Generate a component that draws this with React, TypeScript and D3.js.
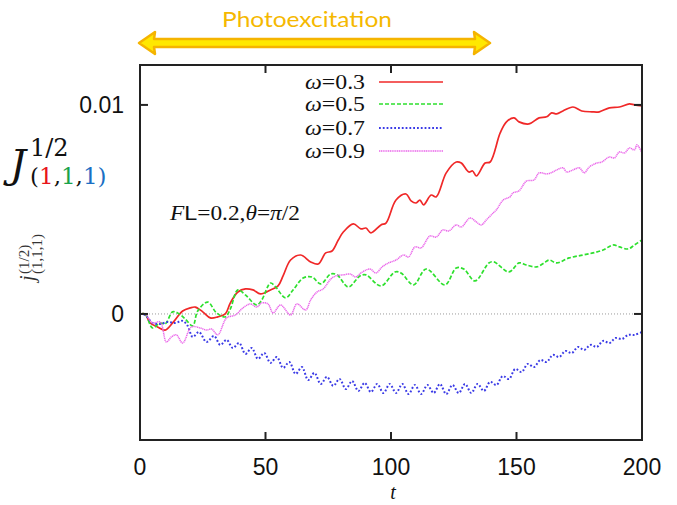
import React from "react";
import * as d3 from "d3";

// ---- data (t, j) ----
const T_RED = [0,2,4,7,10,13,17,20,22,25,28,31,34,36,39,42,45,48,52,55,57,60,64,68,71,74,76.5,79,81,85,88,90,92,96,98,102,106,108,110,111.5,113,116,118,122,126,128,131,132.5,134,137.5,139.5,143.5,146,149,151,155,159,162,164,166,168.5,172.5,176,180,183,187,191,195,197,200];
const J_RED = [0,0,-4.3e-4,-6.2e-4,-7.7e-4,-4.3e-4,1.4e-4,2.9e-4,3.3e-4,1.0e-4,-1.9e-4,-1.4e-4,0,5.3e-4,10.5e-4,12.0e-4,11.5e-4,9.6e-4,11.5e-4,13.4e-4,18.2e-4,25.8e-4,28.2e-4,24.9e-4,23.9e-4,29.2e-4,30.1e-4,35.4e-4,39.2e-4,43.1e-4,40.7e-4,41.1e-4,38.8e-4,42.6e-4,43.5e-4,54.5e-4,57.4e-4,54.1e-4,53.1e-4,54.5e-4,52.2e-4,56.9e-4,56.0e-4,67.5e-4,72.7e-4,72.2e-4,67.9e-4,68.4e-4,66.0e-4,72.2e-4,72.7e-4,86.6e-4,91.9e-4,93.8e-4,91.9e-4,90.9e-4,93.8e-4,94.3e-4,96.2e-4,95.7e-4,97.1e-4,99.0e-4,97.1e-4,96.7e-4,96.7e-4,98.6e-4,99.0e-4,100.5e-4,100.0e-4,99.5e-4];

const T_GREEN = [0,2,5,8,10,13,15,18,21,23,27,30.5,34,36,39,42,46.5,48.5,52,54,58,61,65,68.5,72,76,78.5,83,87.6,90,96,101.6,104,109,114,121.5,126,129,133.5,139,141,147,151,154,158,161,163,166,171,176.5,180.5,184.5,188.5,191,194.5,197,200];
const J_GREEN = [0,0,-6.7e-4,-4.3e-4,-4.8e-4,1.0e-4,0.5e-4,-2.4e-4,-5.7e-4,1.4e-4,5.7e-4,0.5e-4,-1.4e-4,2.4e-4,11.5e-4,9.1e-4,4.3e-4,6.7e-4,14.8e-4,12.9e-4,7.7e-4,11.5e-4,17.2e-4,17.7e-4,14.4e-4,19.1e-4,18.7e-4,12.9e-4,18.2e-4,18.7e-4,13.4e-4,20.1e-4,19.6e-4,13.9e-4,21.5e-4,13.9e-4,22.0e-4,21.5e-4,15.8e-4,24.4e-4,24.9e-4,20.1e-4,24.4e-4,23.4e-4,22.5e-4,24.4e-4,25.8e-4,24.4e-4,26.8e-4,28.2e-4,29.2e-4,30.6e-4,33.0e-4,32.1e-4,31.1e-4,33.0e-4,35.4e-4];

const T_BLUE = [0,2,5,8,11,14,17,19,21,23.5,26.5,29.5,32,34.5,37,39.5,42,44.5,47,49.5,52,54.5,57,59.5,62,64.5,67,69.5,72,74.5,77,79.5,82,84.5,87,89.5,92,94.5,97,99.5,102,104.5,107,109.5,112,114.5,117,119.5,122,124.5,127,129.5,132,134.5,137,139.5,142,144.5,147,149.5,152,154.5,157,159.5,162,164.5,167,169.5,172,174.5,177,179.5,182,184.5,187,189.5,192,194.5,197,200];
const J_BLUE = [0,-0.5e-4,-4.3e-4,-4.8e-4,-3.8e-4,-4.3e-4,-3.3e-4,-5.7e-4,-11.0e-4,-8.6e-4,-13.4e-4,-10.5e-4,-14.8e-4,-12.4e-4,-16.3e-4,-13.9e-4,-19.1e-4,-16.3e-4,-21.5e-4,-18.7e-4,-23.4e-4,-20.6e-4,-25.8e-4,-23.0e-4,-28.7e-4,-25.4e-4,-31.6e-4,-28.2e-4,-33.5e-4,-30.1e-4,-34.4e-4,-31.1e-4,-35.9e-4,-32.1e-4,-36.8e-4,-33.0e-4,-37.3e-4,-33.5e-4,-37.8e-4,-33.5e-4,-37.8e-4,-33.5e-4,-38.3e-4,-34.0e-4,-38.3e-4,-34.0e-4,-37.8e-4,-33.5e-4,-38.3e-4,-34.0e-4,-37.8e-4,-33.5e-4,-37.8e-4,-33.5e-4,-36.8e-4,-32.5e-4,-34.0e-4,-29.7e-4,-31.1e-4,-26.3e-4,-27.8e-4,-23.9e-4,-25.4e-4,-22.0e-4,-23.0e-4,-19.6e-4,-20.6e-4,-17.7e-4,-18.7e-4,-15.8e-4,-17.2e-4,-14.8e-4,-15.8e-4,-12.9e-4,-13.9e-4,-11.5e-4,-12.0e-4,-10.0e-4,-10.0e-4,-8.6e-4];

const T_MAG = [0,2,5,8,10.5,12.5,14.5,17,20.5,24,26.5,28.5,31,34.5,38,41,44,46.5,48.5,51,53,56,60,62.5,66,68,70.5,73,76,78,81,83.7,86,88,91.6,94,96.5,99,102,105,107,109.6,112,115.5,118,120.7,123,126,128,131.5,134,136,138,140.7,142,144.7,147.4,148.6,151,154,157,159,162,164.5,166,168.5,170,172.5,175,177,179,182,184,187,189,191,193,195,197,198,200];
const J_MAG = [0,0,-4.3e-4,-3.8e-4,-13.4e-4,-11.0e-4,-10.0e-4,-13.9e-4,-6.2e-4,-6.7e-4,-7.7e-4,-7.2e-4,-10.0e-4,-1.9e-4,-0.5e-4,2.9e-4,4.8e-4,3.3e-4,5.3e-4,4.8e-4,0.5e-4,4.3e-4,-0.5e-4,4.8e-4,1.9e-4,6.7e-4,10.5e-4,12.0e-4,16.7e-4,18.2e-4,18.7e-4,19.1e-4,17.7e-4,19.6e-4,21.5e-4,19.6e-4,22.5e-4,24.4e-4,25.8e-4,28.2e-4,27.3e-4,32.1e-4,31.6e-4,37.3e-4,36.8e-4,40.2e-4,39.7e-4,42.6e-4,41.6e-4,45.9e-4,44.0e-4,42.6e-4,45.0e-4,48.3e-4,49.8e-4,54.5e-4,56.0e-4,57.9e-4,58.9e-4,63.6e-4,64.1e-4,67.5e-4,67.0e-4,67.9e-4,68.9e-4,69.9e-4,67.9e-4,68.9e-4,69.9e-4,67.5e-4,70.3e-4,72.2e-4,72.7e-4,75.1e-4,74.6e-4,77.5e-4,77.0e-4,79.4e-4,78.5e-4,80.9e-4,77.0e-4];

const LEGEND_LABELS = ["0.3", "0.5", "0.7", "0.9"];
const X_TICKS = [0, 50, 100, 150, 200];
const Y_TICKS = [0, 0.01];
const Y_TICK_LABELS = ["0", "0.01"];

const SERIES = [
  { t: T_RED, j: J_RED, color: "#f02828", dash: "none", width: 1.7 },
  { t: T_GREEN, j: J_GREEN, color: "#2ee02e", dash: "4,2", width: 1.7 },
  { t: T_BLUE, j: J_BLUE, color: "#3a3ae6", dash: "1.8,2", width: 2 },
  { t: T_MAG, j: J_MAG, color: "#ea66ea", dash: "1.2,0.6", width: 1.5 },
];

export default function App() {
  const L = 140, R = 642, T = 65, B = 440;
  const x = d3.scaleLinear().domain([0, 200]).range([L, R]);
  const y = d3.scaleLinear().domain([-0.00603, 0.01191]).range([B, T]);
  const line = d3
    .line<[number, number]>()
    .x((d) => x(d[0]))
    .y((d) => y(d[1]))
    .curve(d3.curveCatmullRom.alpha(0.5));

  const serif = "'Liberation Serif', 'Times New Roman', serif";
  const sans = "'Liberation Sans', Arial, sans-serif";
  const legY = [82, 104, 128, 151];

  return (
    <svg width={677} height={505} style={{ position: "absolute", left: 0, top: 0, background: "#fff" }}>
      <rect width={677} height={505} fill="#fff" />
      {/* Photoexcitation arrow */}
      <text x={307} y={27} textAnchor="middle" fontFamily="Lato, 'Open Sans', sans-serif" fontSize={21} fill="#f5b800" textLength={170} lengthAdjust="spacingAndGlyphs">Photoexcitation</text>
      <path
        d="M139,43 L155,32 L154,39 L475,39 L474,32 L490,43 L474,54 L475,47 L154,47 L155,54 Z"
        fill="#ffe800"
        stroke="#f5b400"
        strokeWidth={2.5}
        strokeLinejoin="round"
      />

      {/* zero line */}
      <line x1={L} x2={R} y1={y(0)} y2={y(0)} stroke="#9a9a9a" strokeWidth={1} strokeDasharray="1,2" />

      {/* series */}
      <g fill="none" strokeLinejoin="round">
        {SERIES.map((s, i) => (
          <path
            key={i}
            d={line(s.t.map((t, k) => [t, s.j[k]] as [number, number])) || ""}
            stroke={s.color}
            strokeWidth={s.width}
            strokeDasharray={s.dash}
          />
        ))}
      </g>

      {/* frame */}
      <rect x={L} y={T} width={R - L} height={B - T} fill="none" stroke="#222" strokeWidth={2} />
      {/* ticks */}
      {X_TICKS.slice(1, -1).map((v) => (
        <g key={v} stroke="#222" strokeWidth={2}>
          <line x1={x(v)} x2={x(v)} y1={B} y2={B - 8} />
          <line x1={x(v)} x2={x(v)} y1={T} y2={T + 8} />
        </g>
      ))}
      {Y_TICKS.map((v) => (
        <g key={v} stroke="#222" strokeWidth={2}>
          <line x1={L} x2={L + 8} y1={y(v)} y2={y(v)} />
          <line x1={R} x2={R - 8} y1={y(v)} y2={y(v)} />
        </g>
      ))}
      {/* tick labels */}
      {X_TICKS.map((v) => (
        <text key={v} x={x(v)} y={475} textAnchor="middle" fontFamily={sans} fontSize={23} fill="#111">{v}</text>
      ))}
      {Y_TICKS.map((v, i) => (
        <text key={v} x={124} y={y(v) + 8} textAnchor="end" fontFamily={sans} fontSize={23} fill="#111">{Y_TICK_LABELS[i]}</text>
      ))}
      {/* x label */}
      <text x={393} y={499} textAnchor="middle" fontFamily={serif} fontStyle="italic" fontSize={20} fill="#111">t</text>

      {/* legend */}
      {LEGEND_LABELS.map((lab, i) => (
        <g key={lab}>
          <text x={365} y={legY[i] + 7} textAnchor="end" fontFamily={serif} fontSize={20} fill="#111" textLength={60} lengthAdjust="spacingAndGlyphs">
            <tspan fontStyle="italic">ω</tspan>={lab}
          </text>
          <line x1={379} x2={443} y1={legY[i]} y2={legY[i]} stroke={SERIES[i].color} strokeWidth={SERIES[i].width} strokeDasharray={SERIES[i].dash} />
        </g>
      ))}

      {/* annotation */}
      <text x={170} y={220} fontFamily={serif} fontSize={21} fill="#111" textLength={130} lengthAdjust="spacingAndGlyphs">
        <tspan fontStyle="italic">F</tspan><tspan fontFamily={sans}>L</tspan>=0.2,<tspan fontStyle="italic">θ</tspan>=<tspan fontStyle="italic">π</tspan>/2
      </text>

      {/* big J label */}
      <text x={10} y={178} fontFamily="'DejaVu Serif', serif" fontStyle="italic" fontSize={40} fill="#111">J</text>
      <text x={30} y={156} fontFamily="'DejaVu Serif', serif" fontSize={24} fill="#111">1/2</text>
      <text x={30} y={184} fontFamily="'DejaVu Serif', serif" fontSize={23} fill="#111">
        (<tspan fill="#e8141c">1</tspan>,<tspan fill="#1aa34a">1</tspan>,<tspan fill="#1a6fc4">1</tspan><tspan fill="#1a6fc4">)</tspan>
      </text>

      {/* small rotated y label */}
      <g transform="translate(34,281) rotate(-90)">
        <text x={0} y={0} fontFamily={serif} fill="#333">
          <tspan fontStyle="italic" fontSize={20}>j</tspan>
          <tspan x={7} dy={-5} fontSize={15}>(1/2)</tspan>
          <tspan x={7} dy={13} fontSize={15}>(1,1,1)</tspan>
        </text>
      </g>
    </svg>
  );
}
